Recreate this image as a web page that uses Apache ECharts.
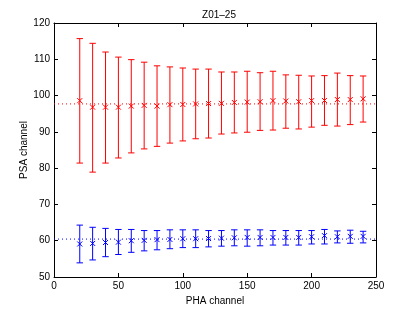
<!DOCTYPE html>
<html><head><meta charset="utf-8">
<script src="https://cdn.jsdelivr.net/npm/echarts@6/dist/echarts.min.js"></script>
<style>html,body{margin:0;padding:0;background:#fff}#c{width:415px;height:312px}</style>
</head><body><div id="c"></div>
<script>
const xs = [20,30,40,50,60,70,80,90,100,110,120,130,140,150,160,170,180,190,200,210,220,230,240];
const redMid = [98.6,96.8,96.8,96.8,97.1,97.3,97.1,97.5,97.55,97.7,97.8,97.85,98.1,98.2,98.3,98.6,98.5,98.3,98.6,98.65,98.9,98.9,99.1];
const redHi  = [115.7,114.4,112.0,110.6,109.9,109.2,108.2,107.9,107.6,107.3,107.3,106.5,106.5,106.7,106.3,106.7,105.7,105.6,105.4,105.5,106.2,105.5,105.4];
const redLo  = [81.4,78.9,81.4,82.8,84.2,85.3,86.0,86.9,87.5,88.1,88.3,89.4,89.7,89.9,90.4,90.5,91.0,90.8,91.3,91.8,91.6,92.0,92.7];
const blueMid = [59.1,59.25,59.5,59.6,60.0,60.1,60.3,60.35,60.55,60.55,60.6,60.7,60.8,60.9,60.9,60.9,60.9,60.9,61.1,61.4,61.1,61.2,61.2];
const blueHi  = [64.3,63.7,63.4,63.1,63.1,62.8,62.8,63.0,63.0,63.0,62.8,62.8,63.0,63.0,63.0,62.8,62.8,62.8,62.8,63.1,62.7,62.9,62.6];
const blueLo  = [53.9,54.7,55.6,56.2,56.8,57.2,57.5,57.8,58.1,58.1,58.3,58.5,58.6,58.5,58.6,58.8,58.8,58.8,59.1,59.1,59.4,59.3,59.4];
const refX = [0,250];
const redRef = 97.7;
const blueRef = 60.45;
const xTicks = [0,50,100,150,200,250];
const yTicks = [50,60,70,80,90,100,110,120];

const FONT = 'Liberation Sans';
function errData(mid, lo, hi){ return xs.map((x,i)=>[x, mid[i], lo[i], hi[i]]); }
function errSeries(mid, lo, hi, color){
  return {
    type:'custom', data: errData(mid,lo,hi), z:3,
    renderItem: function(params, api){
      const x = api.value(0);
      const pm = api.coord([x, api.value(1)]);
      const pl = api.coord([x, api.value(2)]);
      const ph = api.coord([x, api.value(3)]);
      const cw = 3.2, m = 2.5;
      const st = {stroke: color, lineWidth: 1, fill:'none'};
      return {type:'group', children:[
        {type:'line', shape:{x1:pm[0],y1:pl[1],x2:pm[0],y2:ph[1]}, style:st},
        {type:'line', shape:{x1:pm[0]-cw,y1:pl[1],x2:pm[0]+cw,y2:pl[1]}, style:st},
        {type:'line', shape:{x1:pm[0]-cw,y1:ph[1],x2:pm[0]+cw,y2:ph[1]}, style:st},
        {type:'line', shape:{x1:pm[0]-m,y1:pm[1]-m,x2:pm[0]+m,y2:pm[1]+m}, style:st},
        {type:'line', shape:{x1:pm[0]-m,y1:pm[1]+m,x2:pm[0]+m,y2:pm[1]-m}, style:st}
      ]};
    }
  };
}
function refSeries(v, color){
  return {type:'line', data: refX.map(x=>[x,v]), symbol:'none', silent:true, z:2,
    lineStyle:{color:color, width:1, type:[1,3]}};
}
const axisCommon = {
  axisLine:{show:true, onZero:false, lineStyle:{color:'#000', width:1}},
  axisTick:{show:true, inside:true, length:4, lineStyle:{color:'#000'}},
  splitLine:{show:false},
  axisLabel:{color:'#000', fontFamily:FONT, fontSize:10}
};
const chart = echarts.init(document.getElementById('c'), null, {renderer:'canvas'});
chart.setOption({
  animation:false,
  backgroundColor:'#fff',
  title:{text:'Z01–25', left:214, top:5, textAlign:'center',
    textStyle:{fontFamily:FONT, fontSize:10, fontWeight:'normal', color:'#000'}},
  grid:{left:54, right:39, top:23, bottom:35},
  xAxis:[
    Object.assign({type:'value', min:xTicks[0], max:xTicks[xTicks.length-1], interval:50, position:'bottom',
      name:'PHA channel', nameLocation:'middle', nameGap:15,
      nameTextStyle:{fontFamily:FONT, fontSize:10, color:'#000'}}, axisCommon,
      {axisLabel:Object.assign({}, axisCommon.axisLabel, {margin:4})}),
    Object.assign({type:'value', min:0, max:250, interval:50, position:'top'}, axisCommon, {axisLabel:{show:false}})
  ],
  yAxis:[
    Object.assign({type:'value', min:yTicks[0], max:yTicks[yTicks.length-1], interval:10, position:'left',
      name:'PSA channel', nameLocation:'middle', nameGap:25, nameMoveOverlap:false,
      nameTextStyle:{fontFamily:FONT, fontSize:10, color:'#000'}}, axisCommon,
      {axisLabel:Object.assign({}, axisCommon.axisLabel, {margin:4})}),
    Object.assign({type:'value', min:50, max:120, interval:10, position:'right'}, axisCommon, {axisLabel:{show:false}})
  ],
  series:[
    refSeries(redRef, '#ff0000'),
    refSeries(blueRef, '#0000ff'),
    errSeries(redMid, redLo, redHi, '#ff0000'),
    errSeries(blueMid, blueLo, blueHi, '#0000ff')
  ]
});
</script></body></html>
